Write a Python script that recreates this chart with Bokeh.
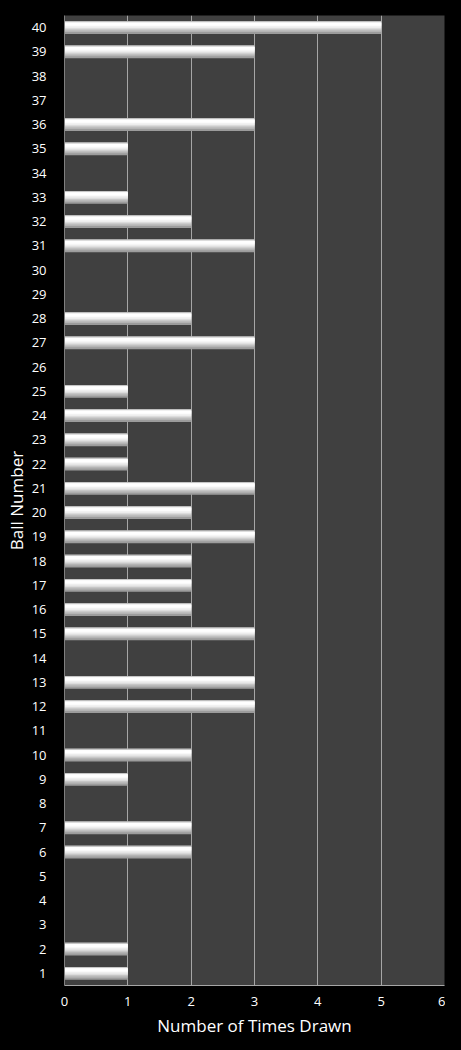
from bokeh.plotting import figure
from bokeh.models import ColumnDataSource, FixedTicker, Range1d
from bokeh.embed import file_html
from bokeh.resources import INLINE

balls = list(range(1, 41))
times_drawn = [1, 1, 0, 0, 0, 2, 2, 0, 1, 2,
               0, 3, 3, 0, 3, 2, 2, 2, 3, 2,
               3, 1, 1, 2, 1, 0, 3, 2, 0, 0,
               3, 2, 1, 0, 1, 3, 0, 0, 3, 5]
x_ticks = [0, 1, 2, 3, 4, 5, 6]

p = figure(width=445, height=1042, output_backend="svg", toolbar_location=None,
           x_range=Range1d(0, 6), y_range=Range1d(0.5, 40.5),
           min_border_left=64, min_border_right=1, min_border_top=15, min_border_bottom=57)
p.background_fill_color = "#404040"
p.border_fill_color = "#000000"
p.outline_line_color = None

p.xgrid.ticker = FixedTicker(ticks=x_ticks)
p.xgrid.grid_line_color = "#a6a6a6"
p.xgrid.grid_line_width = 1
p.ygrid.grid_line_color = None

# bar drawn as layered bands to imitate a vertical gradient
bar_h = 0.52
layers = [  # (start depth, end depth, colour) as fractions of bar height from top
    (0.00, 1.00, "#9c9c9c"),
    (0.00, 0.85, "#b4b4b4"),
    (0.00, 0.72, "#c6c6c6"),
    (0.09, 0.62, "#dcdcdc"),
    (0.09, 0.52, "#ededed"),
    (0.10, 0.42, "#f8f8f8"),
    (0.12, 0.34, "#ffffff"),
]
for top_f, bot_f, c in layers:
    h = (bot_f - top_f) * bar_h
    off = bar_h / 2 - (top_f + bot_f) / 2 * bar_h
    src = ColumnDataSource(dict(y=[b + off for b in balls], right=times_drawn))
    p.hbar(y="y", right="right", left=0, height=h, source=src,
           fill_color=c, line_color=None)

p.xaxis.ticker = FixedTicker(ticks=x_ticks)
p.yaxis.ticker = FixedTicker(ticks=balls)

for ax in (p.xaxis[0], p.yaxis[0]):
    ax.major_tick_line_color = None
    ax.minor_tick_line_color = None
    ax.major_label_text_color = "#ffffff"
    ax.major_label_text_font = "Open Sans"
    ax.major_label_text_font_size = "13px"
    ax.axis_label_text_color = "#ffffff"
    ax.axis_label_text_font = "Open Sans"
    ax.axis_label_text_font_size = "17px"
    ax.axis_label_text_font_style = "normal"

p.xaxis.axis_line_color = "#a6a6a6"
p.yaxis.axis_line_color = "#808080"
p.xaxis.axis_label = "Number of Times Drawn"
p.yaxis.axis_label = "Ball Number"
p.xaxis.major_label_standoff = 5
p.xaxis.axis_label_standoff = 5
p.yaxis.major_label_standoff = 12
p.yaxis.axis_label_standoff = 1

html = file_html(p, INLINE)
html = html.replace("<head>", "<head><style>html, body { background-color: #000000; }</style>", 1)
open("out.html", "w").write(html)
